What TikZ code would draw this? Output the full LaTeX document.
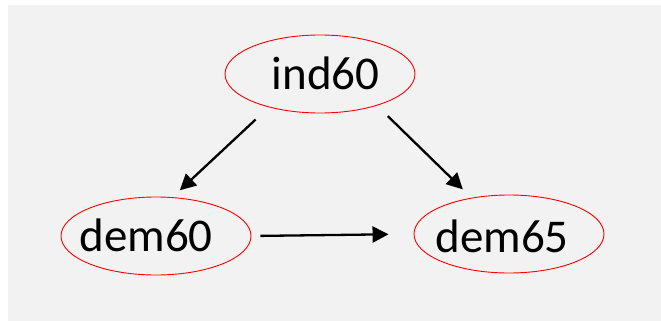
\documentclass[tikz,border=0pt]{standalone}
\usepackage{fontspec}
\setmainfont{Carlito}
\usetikzlibrary{shapes.geometric,arrows.meta}
\definecolor{bggray}{HTML}{F2F2F2}
\tikzset{
  ell/.style={ellipse, draw=red, line width=0.9pt, minimum width=190pt, minimum height=78pt, inner sep=0pt},
  lbl/.style={anchor=base, inner sep=0pt, font=\fontsize{47}{56}\selectfont, text=black},
  arr/.style={line width=2.3pt, -{Triangle[length=16pt,width=16pt]}}
}
\begin{document}
\begin{tikzpicture}[x=1pt,y=-1pt]
\useasboundingbox (0,0) rectangle (661,321);
\fill[bggray] (8,5) rectangle (661,321);
\node[ell] (ind60) at (320,74) {};
\node[ell] (dem60) at (156,236) {};
\node[ell] (dem65) at (509,234) {};
\node[lbl] (ind60t) at (325.5,89) {ind60};
\node[lbl] (dem60t) at (146,251) {dem60};
\node[lbl] (dem65t) at (502,252) {dem65};
\draw[arr, shorten <=18pt, shorten >=10pt] (ind60.213) -- (dem60.67);
\draw[arr, shorten <=15pt, shorten >=12pt] (ind60.331) -- (dem65.136);
\draw[arr, shorten <=9pt, shorten >=25pt] (dem60.east) -- (dem65.west);
\end{tikzpicture}
\end{document}
